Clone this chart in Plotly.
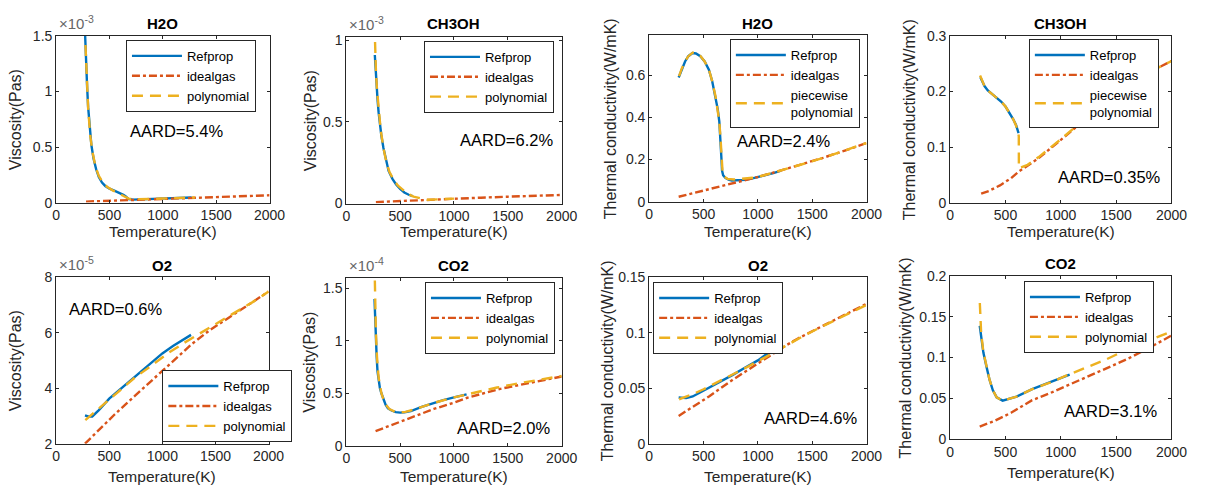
import plotly.graph_objects as go

W, H = 1216, 502

# ---------------- data ----------------
# 1  H2O viscosity (x1e-3 Pa s)
h2o_mu_T_ref = [272, 280, 290, 300, 315, 330, 350, 375, 400, 430, 460, 500, 550, 600, 630, 650, 665, 680, 720, 800, 900, 1000, 1100, 1200, 1270]
h2o_mu_ref = [1.50, 1.25, 1.05, 0.86, 0.67, 0.52, 0.40, 0.30, 0.23, 0.18, 0.15, 0.125, 0.105, 0.085, 0.07, 0.057, 0.045, 0.032, 0.027, 0.029, 0.033, 0.037, 0.040, 0.043, 0.046]
h2o_mu_T_ig = [280, 500, 750, 1000, 1250, 1500, 1750, 2000]
h2o_mu_ig = [0.009, 0.017, 0.027, 0.036, 0.044, 0.052, 0.059, 0.066]
h2o_mu_T_poly = [275, 285, 300, 320, 340, 370, 400, 440, 480, 530, 580, 620, 650, 680, 720, 800, 900, 1000, 1100, 1200, 1300]
h2o_mu_poly = [1.42, 1.15, 0.85, 0.60, 0.46, 0.32, 0.24, 0.18, 0.14, 0.11, 0.085, 0.065, 0.05, 0.036, 0.03, 0.03, 0.033, 0.037, 0.04, 0.043, 0.046]

# 2  CH3OH viscosity (x1e-3 Pa s)
ch3oh_mu_T_ref = [265, 272, 280, 290, 300, 310, 325, 345, 370, 393, 430, 463, 500, 539, 580, 615]
ch3oh_mu_ref = [0.91, 0.82, 0.73, 0.64, 0.56, 0.50, 0.42, 0.34, 0.26, 0.20, 0.15, 0.117, 0.09, 0.068, 0.054, 0.045]
ch3oh_mu_T_ig = [275, 500, 750, 1000, 1250, 1500, 1750, 2000]
ch3oh_mu_ig = [0.009, 0.016, 0.023, 0.030, 0.036, 0.042, 0.048, 0.053]
ch3oh_mu_T_poly = [262, 268, 275, 285, 300, 320, 345, 370, 400, 440, 480, 520, 560, 600, 625, 750, 1000]
ch3oh_mu_poly = [1.10, 0.95, 0.82, 0.70, 0.57, 0.45, 0.34, 0.26, 0.195, 0.145, 0.11, 0.085, 0.065, 0.05, 0.042, 0.023, 0.030]

# 3  H2O thermal conductivity (W/mK)
h2o_k_T_ref = [271, 300, 330, 360, 398, 430, 470, 510, 549, 580, 609, 630, 645, 655, 660, 665, 670, 680, 700, 730, 760, 820, 881, 950, 1050, 1150, 1213]
h2o_k_ref = [0.589, 0.63, 0.665, 0.69, 0.705, 0.703, 0.69, 0.665, 0.626, 0.57, 0.50, 0.44, 0.38, 0.31, 0.27, 0.20, 0.147, 0.125, 0.113, 0.104, 0.10, 0.10, 0.103, 0.11, 0.122, 0.136, 0.147]
h2o_k_T_ig = [271, 400, 600, 800, 1000, 1200, 1400, 1600, 1800, 2000]
h2o_k_ig = [0.023, 0.039, 0.064, 0.090, 0.117, 0.146, 0.176, 0.208, 0.242, 0.278]
h2o_k_T_poly = [275, 300, 330, 360, 400, 430, 470, 510, 550, 580, 610, 630, 645, 655, 662, 668, 675, 690, 720, 780, 850, 950, 1050, 1200, 1400, 1600, 1800, 2000]
h2o_k_poly = [0.595, 0.632, 0.665, 0.69, 0.707, 0.707, 0.692, 0.665, 0.625, 0.57, 0.50, 0.44, 0.38, 0.31, 0.25, 0.18, 0.14, 0.118, 0.108, 0.105, 0.108, 0.113, 0.124, 0.145, 0.176, 0.208, 0.242, 0.278]

# 4  CH3OH thermal conductivity (W/mK)
ch3oh_k_T_ref = [273, 290, 310, 340, 380, 420, 460, 500, 540, 570, 595, 610, 618]
ch3oh_k_ref = [0.226, 0.218, 0.210, 0.202, 0.195, 0.189, 0.182, 0.173, 0.161, 0.150, 0.140, 0.131, 0.125]
ch3oh_k_T_ig = [280, 350, 450, 550, 620, 700, 800, 1000, 1200, 1400, 1600, 1800, 2000]
ch3oh_k_ig = [0.016, 0.021, 0.031, 0.044, 0.056, 0.066, 0.080, 0.113, 0.147, 0.180, 0.210, 0.235, 0.255]
ch3oh_k_T_poly = [270, 290, 310, 340, 380, 420, 460, 500, 540, 570, 595, 612, 620, 621, 700, 800, 1000, 1200, 1400, 1600, 1800, 2000]
ch3oh_k_poly = [0.229, 0.218, 0.210, 0.202, 0.195, 0.189, 0.182, 0.173, 0.161, 0.150, 0.139, 0.128, 0.120, 0.062, 0.068, 0.082, 0.114, 0.148, 0.180, 0.210, 0.235, 0.255]

# 5  O2 viscosity (x1e-5 Pa s)
o2_mu_T_ref = [272, 300, 340, 400, 500, 600, 700, 800, 900, 1000, 1100, 1200, 1270]
o2_mu_ref = [3.02, 2.98, 2.98, 3.20, 3.62, 3.95, 4.28, 4.60, 4.93, 5.25, 5.52, 5.76, 5.92]
o2_mu_T_ig = [272, 400, 550, 741, 900, 1050, 1200, 1281, 1450, 1650, 1850, 2000]
o2_mu_ig = [2.0, 2.5, 3.05, 3.72, 4.28, 4.82, 5.32, 5.6, 6.1, 6.6, 7.1, 7.48]
o2_mu_T_poly = [275, 350, 450, 600, 741, 900, 1050, 1200, 1281, 1450, 1650, 1850, 2000]
o2_mu_poly = [2.85, 3.1, 3.42, 3.9, 4.38, 4.82, 5.25, 5.62, 5.8, 6.2, 6.65, 7.1, 7.48]

# 6  CO2 viscosity (x1e-4 Pa s)
co2_mu_T_ref = [262, 268, 275, 282, 290, 300, 312, 326, 345, 365, 387, 420, 460, 500, 540, 600, 700, 813, 900, 1000, 1117]
co2_mu_ref = [1.40, 1.15, 0.97, 0.85, 0.71, 0.62, 0.55, 0.50, 0.44, 0.39, 0.355, 0.335, 0.32, 0.315, 0.318, 0.33, 0.37, 0.41, 0.435, 0.46, 0.49]
co2_mu_T_ig = [272, 400, 600, 813, 1000, 1117, 1421, 1726, 2000]
co2_mu_ig = [0.138, 0.19, 0.27, 0.35, 0.41, 0.455, 0.54, 0.60, 0.66]
co2_mu_T_poly = [262, 268, 275, 285, 300, 326, 360, 400, 450, 500, 550, 650, 800, 1000, 1200, 1400, 1600, 1800, 2000]
co2_mu_poly = [1.75, 1.35, 1.08, 0.85, 0.65, 0.50, 0.40, 0.35, 0.325, 0.318, 0.322, 0.35, 0.405, 0.46, 0.51, 0.555, 0.595, 0.63, 0.665]

# 7  O2 thermal conductivity (W/mK)
o2_k_T_ref = [271, 300, 340, 400, 468, 550, 650, 769, 900, 1000, 1071, 1100]
o2_k_ref = [0.0416, 0.0412, 0.041, 0.0425, 0.046, 0.0505, 0.0555, 0.062, 0.0695, 0.075, 0.080, 0.0815]
o2_k_T_ig = [271, 400, 550, 769, 900, 1071, 1250, 1373, 1600, 1800, 2000]
o2_k_ig = [0.025, 0.033, 0.0425, 0.0576, 0.066, 0.0765, 0.088, 0.095, 0.106, 0.116, 0.126]
o2_k_T_poly = [275, 320, 400, 500, 600, 769, 900, 1071, 1250, 1400, 1600, 1800, 2000]
o2_k_poly = [0.040, 0.0415, 0.0445, 0.049, 0.054, 0.062, 0.069, 0.078, 0.088, 0.096, 0.106, 0.1155, 0.125]

# 8  CO2 thermal conductivity (W/mK)
co2_k_T_ref = [267, 280, 300, 326, 355, 385, 420, 474, 533, 600, 741, 900, 1037, 1080]
co2_k_ref = [0.139, 0.124, 0.106, 0.09, 0.073, 0.06, 0.051, 0.047, 0.049, 0.052, 0.061, 0.069, 0.076, 0.079]
co2_k_T_ig = [267, 400, 550, 741, 900, 1100, 1333, 1600, 1800, 2000]
co2_k_ig = [0.015, 0.022, 0.032, 0.0475, 0.056, 0.068, 0.082, 0.098, 0.112, 0.127]
co2_k_T_poly = [268, 280, 300, 326, 355, 385, 420, 474, 533, 600, 741, 900, 1037, 1200, 1400, 1630, 1800, 2000]
co2_k_poly = [0.167, 0.13, 0.107, 0.09, 0.073, 0.06, 0.051, 0.047, 0.049, 0.052, 0.061, 0.069, 0.077, 0.086, 0.097, 0.112, 0.121, 0.132]

titles = ["H2O", "CH3OH", "H2O", "CH3OH", "O2", "CO2", "O2", "CO2"]
ylabels = ["Viscosity(Pas)", "Viscosity(Pas)", "Thermal conductivity(W/mK)", "Thermal conductivity(W/mK)",
           "Viscosity(Pas)", "Viscosity(Pas)", "Thermal conductivity(W/mK)", "Thermal conductivity(W/mK)"]
aard = ["AARD=5.4%", "AARD=6.2%", "AARD=2.4%", "AARD=0.35%", "AARD=0.6%", "AARD=2.0%", "AARD=4.6%", "AARD=3.1%"]
exponents = ["-3", "-3", None, None, "-5", "-4", None, None]
series_names = ["Refprop", "idealgas", "polynomial"]
poly_names = ["polynomial", "polynomial", "piecewise<br>polynomial", "piecewise<br>polynomial",
              "polynomial", "polynomial", "polynomial", "polynomial"]
x_ticks = [0, 500, 1000, 1500, 2000]
y_ticks = [
    ([0, 0.5, 1, 1.5], ["0", "0.5", "1", "1.5"]),
    ([0, 0.5, 1], ["0", "0.5", "1"]),
    ([0, 0.2, 0.4, 0.6], ["0", "0.2", "0.4", "0.6"]),
    ([0, 0.1, 0.2, 0.3], ["0", "0.1", "0.2", "0.3"]),
    ([2, 4, 6, 8], ["2", "4", "6", "8"]),
    ([0, 0.5, 1, 1.5], ["0", "0.5", "1", "1.5"]),
    ([0, 0.05, 0.1, 0.15], ["0", "0.05", "0.1", "0.15"]),
    ([0, 0.05, 0.1, 0.15, 0.2], ["0", "0.05", "0.1", "0.15", "0.2"]),
]
y_ranges = [[0, 1.5], [0, 1.02], [0, 0.79], [0, 0.3], [2, 8], [0, 1.6], [0, 0.15], [0, 0.2]]

panels = [
    (h2o_mu_T_ref, h2o_mu_ref, h2o_mu_T_ig, h2o_mu_ig, h2o_mu_T_poly, h2o_mu_poly),
    (ch3oh_mu_T_ref, ch3oh_mu_ref, ch3oh_mu_T_ig, ch3oh_mu_ig, ch3oh_mu_T_poly, ch3oh_mu_poly),
    (h2o_k_T_ref, h2o_k_ref, h2o_k_T_ig, h2o_k_ig, h2o_k_T_poly, h2o_k_poly),
    (ch3oh_k_T_ref, ch3oh_k_ref, ch3oh_k_T_ig, ch3oh_k_ig, ch3oh_k_T_poly, ch3oh_k_poly),
    (o2_mu_T_ref, o2_mu_ref, o2_mu_T_ig, o2_mu_ig, o2_mu_T_poly, o2_mu_poly),
    (co2_mu_T_ref, co2_mu_ref, co2_mu_T_ig, co2_mu_ig, co2_mu_T_poly, co2_mu_poly),
    (o2_k_T_ref, o2_k_ref, o2_k_T_ig, o2_k_ig, o2_k_T_poly, o2_k_poly),
    (co2_k_T_ref, co2_k_ref, co2_k_T_ig, co2_k_ig, co2_k_T_poly, co2_k_poly),
]

# ---------------- layout geometry (pixels) ----------------
boxes = [  # left, right, top, bottom
    (53, 270, 29, 201), (348, 567, 30, 202), (656, 877, 28, 200), (962, 1187, 29, 201),
    (53, 269, 278, 450), (348, 567, 279, 452), (656, 877, 278, 450), (962, 1187, 277, 445),
]
legend_pos = [(124, 33), (427, 34), (738, 32), (1042, 32), (161, 374), (428, 283), (660, 283), (1037, 282)]
aard_pos = [(175, 127), (511, 136), (793, 137), (1124, 175), (113, 311), (508, 434), (820, 423), (1125, 416)]
ylabel_x = [12, 311, 616, 920, 12, 311, 613, 917]
xlabel_y = [231, 231, 231, 231, 484, 484, 484, 480]
title_y = [16, 16, 16, 16, 266, 266, 266, 264]

BLUE, RED, YELLOW = "#0072BD", "#D95319", "#EDB120"
AX = "#262626"
FONT = "Liberation Sans, Arial, sans-serif"


def px(xp):
    return xp / W


def py(yp):
    return 1 - yp / H


fig = go.Figure()
annotations = []
layout = dict(width=W, height=H, margin=dict(l=0, r=0, t=0, b=0),
              paper_bgcolor="white", plot_bgcolor="white",
              font=dict(family=FONT, color=AX, size=14))

for i, (Tr, yr, Ti, yi, Tp, yp) in enumerate(panels):
    n = i + 1
    xa = "x" if n == 1 else f"x{n}"
    ya = "y" if n == 1 else f"y{n}"
    lg = "legend" if n == 1 else f"legend{n}"
    fig.add_trace(go.Scatter(x=Tr, y=yr, mode="lines", name=series_names[0], xaxis=xa, yaxis=ya,
                             legend=lg, line=dict(color=BLUE, width=2.4)))
    fig.add_trace(go.Scatter(x=Ti, y=yi, mode="lines", name=series_names[1], xaxis=xa, yaxis=ya,
                             legend=lg, line=dict(color=RED, width=2.4, dash="8px,3px,3px,3px")))
    fig.add_trace(go.Scatter(x=Tp, y=yp, mode="lines", name=poly_names[i], xaxis=xa, yaxis=ya,
                             legend=lg, line=dict(color=YELLOW, width=2.4, dash="11px,7px")))

    l, r, t, b = boxes[i]
    axis_common = dict(showline=True, linecolor=AX, linewidth=1, mirror="ticks", ticks="inside",
                       ticklen=3, tickcolor=AX, showgrid=False, zeroline=False,
                       tickfont=dict(family=FONT, size=14, color=AX), fixedrange=True)
    layout[f"xaxis{n}" if n > 1 else "xaxis"] = dict(
        domain=[px(l), px(r)], anchor=ya, range=[0, 2000], tickvals=x_ticks,
        ticktext=[str(v) for v in x_ticks], **axis_common)
    tv, tt = y_ticks[i]
    layout[f"yaxis{n}" if n > 1 else "yaxis"] = dict(
        domain=[py(b), py(t)], anchor=xa, range=y_ranges[i], tickvals=tv, ticktext=tt, **axis_common)

    lx, ly = legend_pos[i]
    layout[lg] = dict(x=px(lx), y=py(ly), xanchor="left", yanchor="top", xref="paper", yref="paper",
                      bgcolor="white", bordercolor=AX, borderwidth=1,
                      font=dict(family=FONT, size=13, color="#000000"),
                      itemwidth=50, tracegroupgap=0, valign="middle")

    cx = (l + r) / 2
    annotations.append(dict(x=px(cx), y=py(title_y[i]), xref="paper", yref="paper", text=f"<b>{titles[i]}</b>",
                            showarrow=False, font=dict(family=FONT, size=15, color="#000000"),
                            xanchor="center", yanchor="middle"))
    annotations.append(dict(x=px(cx), y=py(xlabel_y[i]), xref="paper", yref="paper", text="Temperature(K)",
                            showarrow=False, font=dict(family=FONT, size=15.5, color=AX),
                            xanchor="center", yanchor="middle"))
    annotations.append(dict(x=px(ylabel_x[i]), y=py((t + b) / 2), xref="paper", yref="paper", text=ylabels[i],
                            showarrow=False, textangle=-90, font=dict(family=FONT, size=16, color=AX),
                            xanchor="center", yanchor="middle"))
    ax_, ay_ = aard_pos[i]
    annotations.append(dict(x=px(ax_), y=py(ay_), xref="paper", yref="paper", text=aard[i],
                            showarrow=False, font=dict(family=FONT, size=16.5, color="#000000"),
                            xanchor="center", yanchor="middle"))
    if exponents[i]:
        annotations.append(dict(x=px(l + 1), y=py(t - 2), xref="paper", yref="paper",
                                text=f"×10<sup>{exponents[i]}</sup>", showarrow=False,
                                font=dict(family=FONT, size=15, color="#666666"),
                                xanchor="left", yanchor="bottom"))

layout["annotations"] = annotations
layout["showlegend"] = True
fig.update_layout(**layout)
fig.write_html("out.html")
